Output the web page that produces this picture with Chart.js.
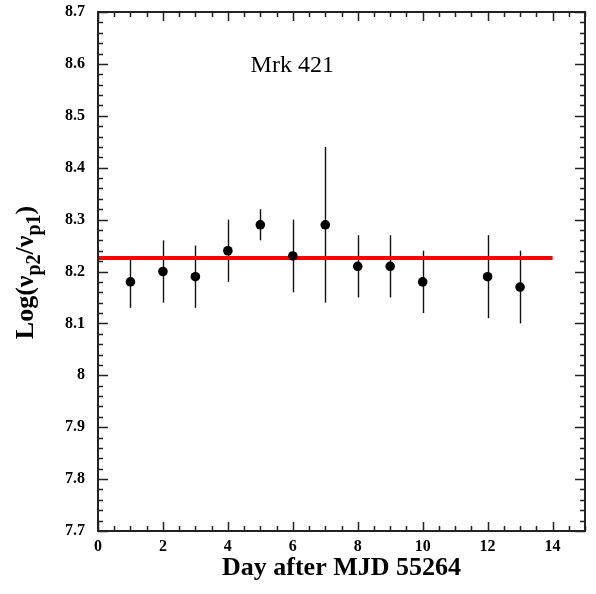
<!DOCTYPE html>
<html>
<head>
<meta charset="utf-8">
<script src="https://cdn.jsdelivr.net/npm/chart.js@4.4.0/dist/chart.umd.min.js"></script>
<style>
  html, body { margin: 0; padding: 0; background: #fff; }
  #wrap { width: 596px; height: 594px; }
</style>
</head>
<body>
<div id="wrap"><canvas id="chart"></canvas></div>
<script>
// day after MJD 55264 and Log(nu_p2/nu_p1) with its error range
const days = [1, 2, 3, 4, 5, 6, 7, 8, 9, 10, 12, 13];
const logRatio = [8.18, 8.20, 8.19, 8.24, 8.29, 8.23, 8.29, 8.21, 8.21, 8.18, 8.19, 8.17];
const errLow = [8.13, 8.14, 8.13, 8.18, 8.26, 8.16, 8.14, 8.15, 8.15, 8.12, 8.11, 8.10];
const errHigh = [8.23, 8.26, 8.25, 8.30, 8.32, 8.30, 8.44, 8.27, 8.27, 8.24, 8.27, 8.24];
// constant fit
const fitLevel = 8.226;
const fitDays = [0, 14];

const SERIF = '"Liberation Serif", "Times New Roman", serif';

const errorBars = {
  id: 'errorBars',
  beforeDatasetsDraw(chart){
    const {ctx, scales:{x, y}} = chart;
    ctx.save();
    ctx.strokeStyle = '#111';
    ctx.lineWidth = 1.4;
    days.forEach((d, i)=>{
      const px = Math.round(x.getPixelForValue(d)) + 0.5;
      ctx.beginPath();
      ctx.moveTo(px, y.getPixelForValue(errLow[i]));
      ctx.lineTo(px, y.getPixelForValue(errHigh[i]));
      ctx.stroke();
    });
    ctx.restore();
  }
};

// box frame with inward ticks on all four sides
const frameTicks = {
  id: 'frameTicks',
  afterDraw(chart){
    const {ctx, chartArea:a, scales:{x, y}} = chart;
    ctx.save();
    ctx.strokeStyle = '#222';
    ctx.lineWidth = 2;
    ctx.strokeRect(a.left, a.top, a.right - a.left, a.bottom - a.top);
    ctx.lineWidth = 1.5;
    ctx.beginPath();
    for(let i = 0; i <= 50; i++){
      const py = Math.round(y.getPixelForValue(7.7 + i*0.02)) + 0.5;
      const len = i % 5 === 0 ? 10 : 5;
      ctx.moveTo(a.left, py); ctx.lineTo(a.left + len, py);
      ctx.moveTo(a.right, py); ctx.lineTo(a.right - len, py);
    }
    for(let i = 0; i <= 30; i++){
      const px = Math.round(x.getPixelForValue(i*0.5)) + 0.5;
      const len = i % 4 === 0 ? 9 : 5;
      ctx.moveTo(px, a.bottom); ctx.lineTo(px, a.bottom - len);
      ctx.moveTo(px, a.top); ctx.lineTo(px, a.top + len);
    }
    ctx.stroke();
    ctx.restore();
  }
};

// source label and y axis title with subscripts
const labels = {
  id: 'labels',
  afterDraw(chart){
    const {ctx, chartArea:a, scales:{x, y}} = chart;
    ctx.save();
    ctx.fillStyle = '#000';
    ctx.font = '24px ' + SERIF;
    ctx.textBaseline = 'alphabetic';
    ctx.fillText('Mrk 421', x.getPixelForValue(4.7), y.getPixelForValue(8.585));

    const big = 'bold 26px ' + SERIF, small = 'bold 20px ' + SERIF;
    const parts = [
      ['Log(\u03bd', big, 0], ['p2', small, 7], ['/\u03bd', big, 0], ['p1', small, 7], [')', big, 0]
    ];
    let total = 0;
    parts.forEach(p=>{ ctx.font = p[1]; total += ctx.measureText(p[0]).width; });
    ctx.translate(33, (a.top + a.bottom)/2 + 1);
    ctx.rotate(-Math.PI/2);
    let cx = -total/2;
    parts.forEach(p=>{
      ctx.font = p[1];
      ctx.fillText(p[0], cx, p[2]);
      cx += ctx.measureText(p[0]).width;
    });
    ctx.restore();
  }
};

new Chart(document.getElementById('chart'), {
  type: 'scatter',
  data: {
    datasets: [
      {
        data: days.map((d, i)=>({x: d, y: logRatio[i]})),
        backgroundColor: '#000', borderWidth: 0, pointRadius: 4.8
      },
      {
        type: 'line',
        data: fitDays.map(d=>({x: d, y: fitLevel})),
        borderColor: '#ff0000', borderWidth: 4, pointRadius: 0, fill: false
      }
    ]
  },
  options: {
    responsive: true, maintainAspectRatio: false, animation: false,
    layout: { padding: { top: 12, right: 11, left: 0, bottom: 0 } },
    plugins: { legend: { display: false }, tooltip: { enabled: false } },
    scales: {
      x: {
        type: 'linear', min: 0, max: 15,
        grid: { display: false, drawTicks: false }, border: { display: false },
        ticks: { stepSize: 2, includeBounds: false, padding: 6, color: '#000',
          font: { family: SERIF, size: 16, weight: 'bold' } },
        title: { display: true, text: 'Day after MJD 55264', color: '#000',
          font: { family: SERIF, size: 26, weight: 'bold' }, padding: { top: 0, bottom: 10 } },
        afterFit(s){ s.height = 63; s.paddingLeft = 0; s.paddingRight = 0; }
      },
      y: {
        min: 7.7, max: 8.7,
        grid: { display: false, drawTicks: false }, border: { display: false },
        ticks: { stepSize: 0.1, padding: 13, color: '#000',
          font: { family: SERIF, size: 16, weight: 'bold' },
          callback: v => String(Math.round(v*10)/10) },
        afterFit(s){ s.width = 98; s.paddingTop = 0; s.paddingBottom = 0; }
      }
    }
  },
  plugins: [errorBars, frameTicks, labels]
});
</script>
</body>
</html>
